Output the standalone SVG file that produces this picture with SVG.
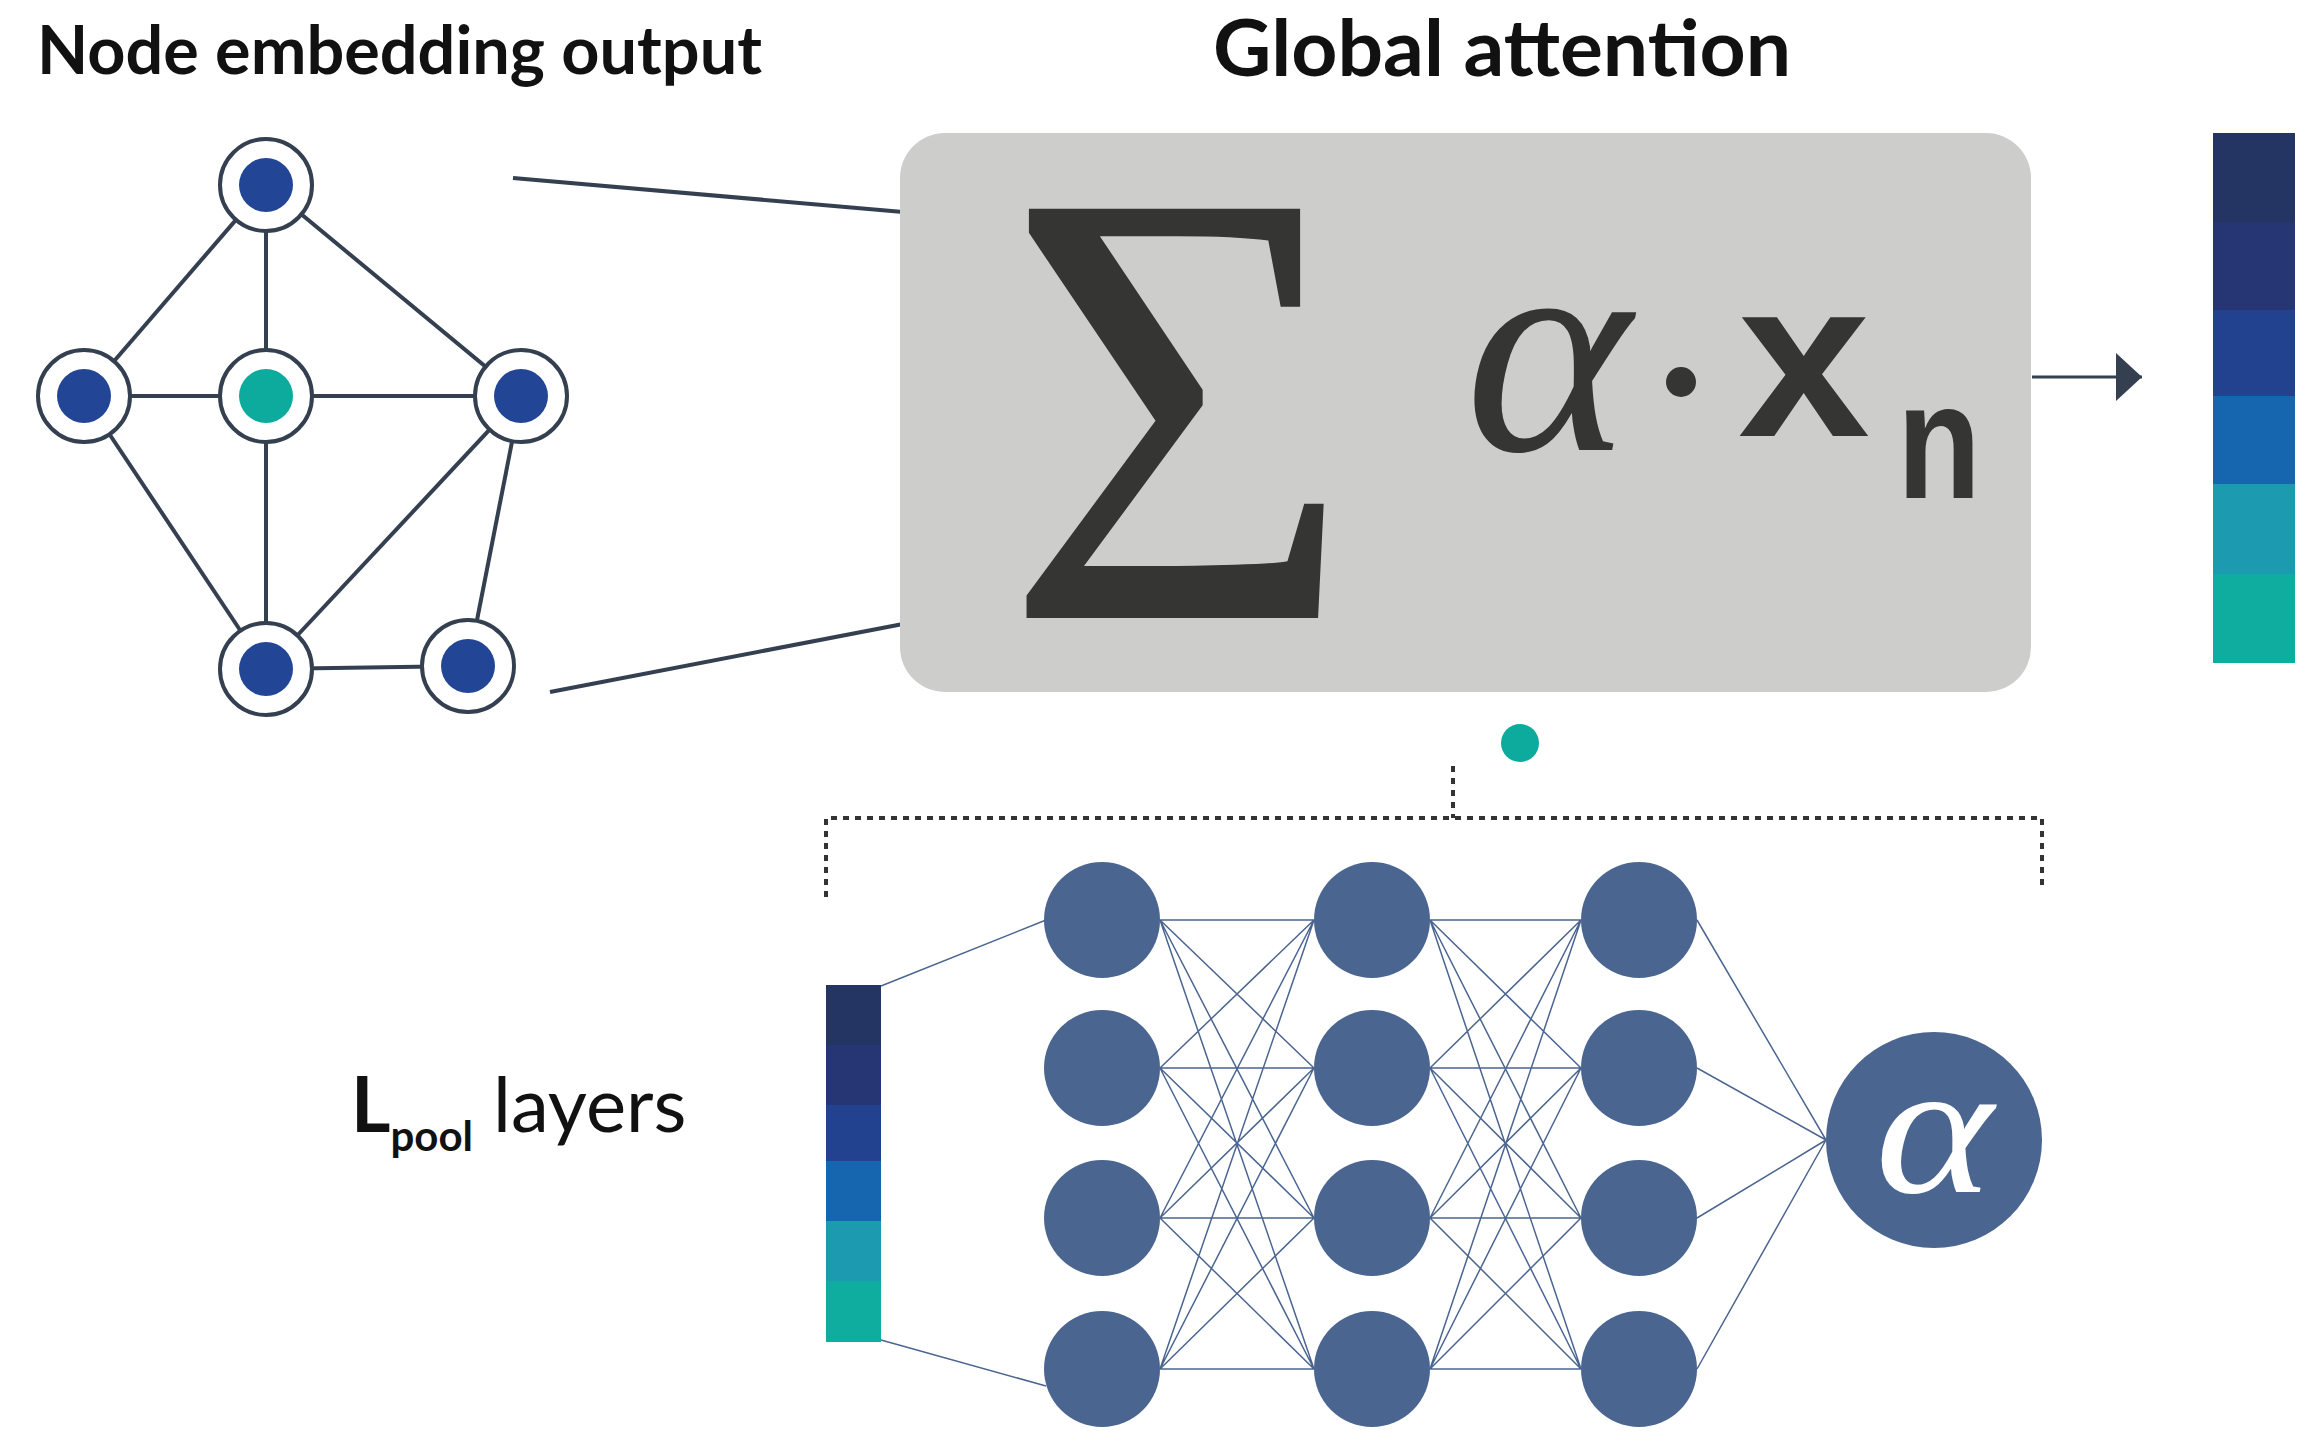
<svg xmlns="http://www.w3.org/2000/svg" width="2308" height="1451" viewBox="0 0 2308 1451">
<style>
.title{font-family:"Lato","Liberation Sans",sans-serif;font-weight:bold;fill:#111}
.ge{stroke:#344050;stroke-width:4;fill:none}
.ring{fill:#fff;stroke:#344050;stroke-width:4}
.nn{fill:#4a6590}
.nl{stroke:#4a6590;stroke-width:1.5;fill:none}
.dk{fill:#353533}
</style>
<defs>
<marker id="ah2" viewBox="0 0 10 10" markerWidth="26" markerHeight="48" refX="10" refY="5" orient="auto" markerUnits="userSpaceOnUse" preserveAspectRatio="none"><path d="M0,0L10,5L0,10Z" fill="#344050"/></marker></defs>
<rect width="2308" height="1451" fill="#fff"/>
<text class="title" x="37" y="74" font-size="66" textLength="725" lengthAdjust="spacingAndGlyphs">Node embedding output</text>
<text class="title" x="1213" y="76" font-size="78" textLength="578" lengthAdjust="spacingAndGlyphs">Global attention</text>

<g id="connectors">
<g class="ge">
<line x1="266" y1="185" x2="84" y2="396"/><line x1="266" y1="185" x2="266" y2="396"/><line x1="266" y1="185" x2="521" y2="396"/>
<line x1="84" y1="396" x2="266" y2="396"/><line x1="266" y1="396" x2="521" y2="396"/>
<line x1="84" y1="396" x2="266" y2="669"/><line x1="266" y1="396" x2="266" y2="669"/><line x1="521" y1="396" x2="266" y2="669"/>
<line x1="521" y1="396" x2="468" y2="666"/><line x1="266" y1="669" x2="468" y2="666"/>
<line x1="513" y1="178" x2="903" y2="212"/><line x1="550" y1="692" x2="903" y2="624"/>
</g>
<line x1="2032" y1="377" x2="2142" y2="377" stroke="#344050" stroke-width="3" marker-end="url(#ah2)"/>
<g stroke="#333" stroke-width="4" stroke-dasharray="6,6" fill="none">
<path d="M1453,766V818"/><path d="M826,897V818H2042V885"/>
</g>
<g class="nl">
<line x1="881" y1="986" x2="1046" y2="920"/><line x1="881" y1="1340" x2="1046" y2="1386"/>
<path d="M1160,920L1314,920M1160,920L1314,1068M1160,920L1314,1218M1160,920L1314,1369M1160,1068L1314,920M1160,1068L1314,1068M1160,1068L1314,1218M1160,1068L1314,1369M1160,1218L1314,920M1160,1218L1314,1068M1160,1218L1314,1218M1160,1218L1314,1369M1160,1369L1314,920M1160,1369L1314,1068M1160,1369L1314,1218M1160,1369L1314,1369"/>
<path d="M1430,920L1581,920M1430,920L1581,1068M1430,920L1581,1218M1430,920L1581,1369M1430,1068L1581,920M1430,1068L1581,1068M1430,1068L1581,1218M1430,1068L1581,1369M1430,1218L1581,920M1430,1218L1581,1068M1430,1218L1581,1218M1430,1218L1581,1369M1430,1369L1581,920M1430,1369L1581,1068M1430,1369L1581,1218M1430,1369L1581,1369"/>
<path d="M1697,920L1826,1140M1697,1068L1826,1140M1697,1218L1826,1140M1697,1369L1826,1140"/>
</g>
</g>

<g id="graph-nodes">
<g id="g-top"><circle class="ring" cx="266" cy="185" r="46"/><circle cx="266" cy="185" r="27" fill="#224595"/></g>
<g id="g-left"><circle class="ring" cx="84" cy="396" r="46"/><circle cx="84" cy="396" r="27" fill="#224595"/></g>
<g id="g-center"><circle class="ring" cx="266" cy="396" r="46"/><circle cx="266" cy="396" r="27" fill="#0dab9d"/></g>
<g id="g-right"><circle class="ring" cx="521" cy="396" r="46"/><circle cx="521" cy="396" r="27" fill="#224595"/></g>
<g id="g-bottom"><circle class="ring" cx="266" cy="669" r="46"/><circle cx="266" cy="669" r="27" fill="#224595"/></g>
<g id="g-bottomright"><circle class="ring" cx="468" cy="666" r="46"/><circle cx="468" cy="666" r="27" fill="#224595"/></g>
</g>

<g id="attention-box">
<rect x="900" y="133" width="1131" height="559" rx="45" fill="#cdcdcc"/>
<text class="dk" x="1003" y="618" font-family="Liberation Serif,serif" font-size="625" textLength="351" lengthAdjust="spacingAndGlyphs">Σ</text>
<text class="dk" x="1465" y="450" font-family="Liberation Serif,serif" font-style="italic" font-size="300" textLength="166" lengthAdjust="spacingAndGlyphs">α</text>
<circle class="dk" cx="1681" cy="382" r="15"/>
<text class="dk" x="1738" y="436" font-family="Liberation Sans,sans-serif" font-weight="bold" font-size="225" textLength="132" lengthAdjust="spacingAndGlyphs">x</text>
<text class="dk" x="1897" y="498" font-family="Liberation Sans,sans-serif" font-weight="bold" font-size="165" textLength="84" lengthAdjust="spacingAndGlyphs">n</text>
</g>

<g id="output-vector">
<rect x="2213" y="133" width="82" height="89" fill="#243463"/>
<rect x="2213" y="222" width="82" height="88" fill="#263573"/>
<rect x="2213" y="310" width="82" height="86" fill="#22428f"/>
<rect x="2213" y="396" width="82" height="88" fill="#1566ae"/>
<rect x="2213" y="484" width="82" height="90" fill="#1c9bb0"/>
<rect x="2213" y="574" width="82" height="89" fill="#0fada0"/>
</g>

<g id="teal-dot"><circle cx="1520" cy="743" r="19" fill="#0dab9d"/></g>

<g id="input-vector">
<rect x="826" y="985" width="55" height="60" fill="#243463"/>
<rect x="826" y="1045" width="55" height="60" fill="#263573"/>
<rect x="826" y="1105" width="55" height="56" fill="#22428f"/>
<rect x="826" y="1161" width="55" height="60" fill="#1566ae"/>
<rect x="826" y="1221" width="55" height="60" fill="#1c9bb0"/>
<rect x="826" y="1281" width="55" height="61" fill="#0fada0"/>
</g>

<g id="label-lpool">
<text x="351" y="1132" font-family="Lato,Liberation Sans,sans-serif" font-size="76" fill="#111"><tspan font-weight="bold">L</tspan><tspan font-weight="bold" font-size="42" dy="19">pool</tspan><tspan dy="-19" x="493">layers</tspan></text>
</g>

<g id="nn-nodes">
<g id="n11"><circle class="nn" cx="1102" cy="920" r="58"/></g>
<g id="n12"><circle class="nn" cx="1102" cy="1068" r="58"/></g>
<g id="n13"><circle class="nn" cx="1102" cy="1218" r="58"/></g>
<g id="n14"><circle class="nn" cx="1102" cy="1369" r="58"/></g>
<g id="n21"><circle class="nn" cx="1372" cy="920" r="58"/></g>
<g id="n22"><circle class="nn" cx="1372" cy="1068" r="58"/></g>
<g id="n23"><circle class="nn" cx="1372" cy="1218" r="58"/></g>
<g id="n24"><circle class="nn" cx="1372" cy="1369" r="58"/></g>
<g id="n31"><circle class="nn" cx="1639" cy="920" r="58"/></g>
<g id="n32"><circle class="nn" cx="1639" cy="1068" r="58"/></g>
<g id="n33"><circle class="nn" cx="1639" cy="1218" r="58"/></g>
<g id="n34"><circle class="nn" cx="1639" cy="1369" r="58"/></g>
<g id="alpha-node"><circle class="nn" cx="1934" cy="1140" r="108"/>
<text x="1875" y="1192" font-family="Liberation Serif,serif" font-style="italic" font-size="190" fill="#fff" textLength="118" lengthAdjust="spacingAndGlyphs">α</text></g>
</g>
</svg>
